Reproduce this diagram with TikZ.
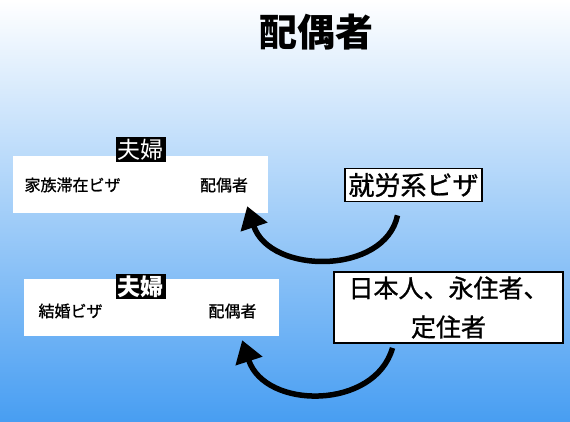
\documentclass[tikz,border=0pt]{standalone}
\usepackage{fontspec}
\usepackage{tikz}
\usetikzlibrary{arrows.meta}
\newfontfamily\cjk{Noto Sans CJK JP}
\newfontfamily\cjkmid[FakeBold=1]{Noto Sans CJK JP}
\definecolor{skyblue}{RGB}{72,158,242}

\begin{document}
\begin{tikzpicture}[x=1pt, y=-1pt,
    panel/.style={fill=white, minimum width=255pt, minimum height=57pt, inner sep=0pt},
    couple/.style={fill=black, text=white, inner sep=2pt, font=\cjk\fontsize{23}{26}\selectfont},
    small/.style={font=\cjkmid\fontsize{16}{19}\selectfont},
    source/.style={draw=black, line width=1.8pt, fill=white, font=\cjkmid\fontsize{25}{39}\selectfont, align=center},
    turn/.style={line width=5.5pt, -{Triangle[length=22pt, width=27pt]}}]

        %Background
        \shade [top color=white, bottom color=skyblue] (0,0) rectangle (570,421);
        \useasboundingbox (0,0) rectangle (570,421);
        %Title
        \node [font=\cjk\bfseries\fontsize{38}{42}\selectfont] (title) at (316,32) {配偶者};

        %Family stay
        \node [panel] (panelA) at (140.5,184.5) {};
        \node [couple] (coupleA) at (140.5,149.5) {夫婦};
        \node [small, anchor=west] (visaA) at (21,185) {家族滞在ビザ};
        \node [small] (spouseA) at (224,185) {配偶者};
        %Marriage
        \node [panel] (panelB) at (151.5,307.5) {};
        \node [couple, font=\cjk\bfseries\fontsize{23}{26}\selectfont] (coupleB) at (140.5,286.5) {夫婦};
        \node [small, anchor=west] (visaB) at (35,311) {結婚ビザ};
        \node [small] (spouseB) at (232.5,311) {配偶者};

        %Sources
        \node [source, font=\cjkmid\fontsize{26}{30}\selectfont, minimum width=137pt, minimum height=33pt, inner sep=1pt] (work) at (413.5,185) {就労系ビザ};
        \node [source, minimum width=229pt, minimum height=71pt, inner sep=1pt] (resident) at (448.5,307.5) {日本人、永住者、\\定住者};

        %Arrows
        \draw [turn] ([xshift=-16pt,yshift=-13pt]work.south) .. controls (385,275) and (270,275) .. ([xshift=-21pt,yshift=7pt]panelA.south east);
        \draw [turn] ([xshift=-56pt,yshift=-4pt]resident.south) .. controls (375,410) and (265,410) .. ([xshift=-37pt,yshift=-4pt]panelB.south east);
      \end{tikzpicture}
\end{document}
